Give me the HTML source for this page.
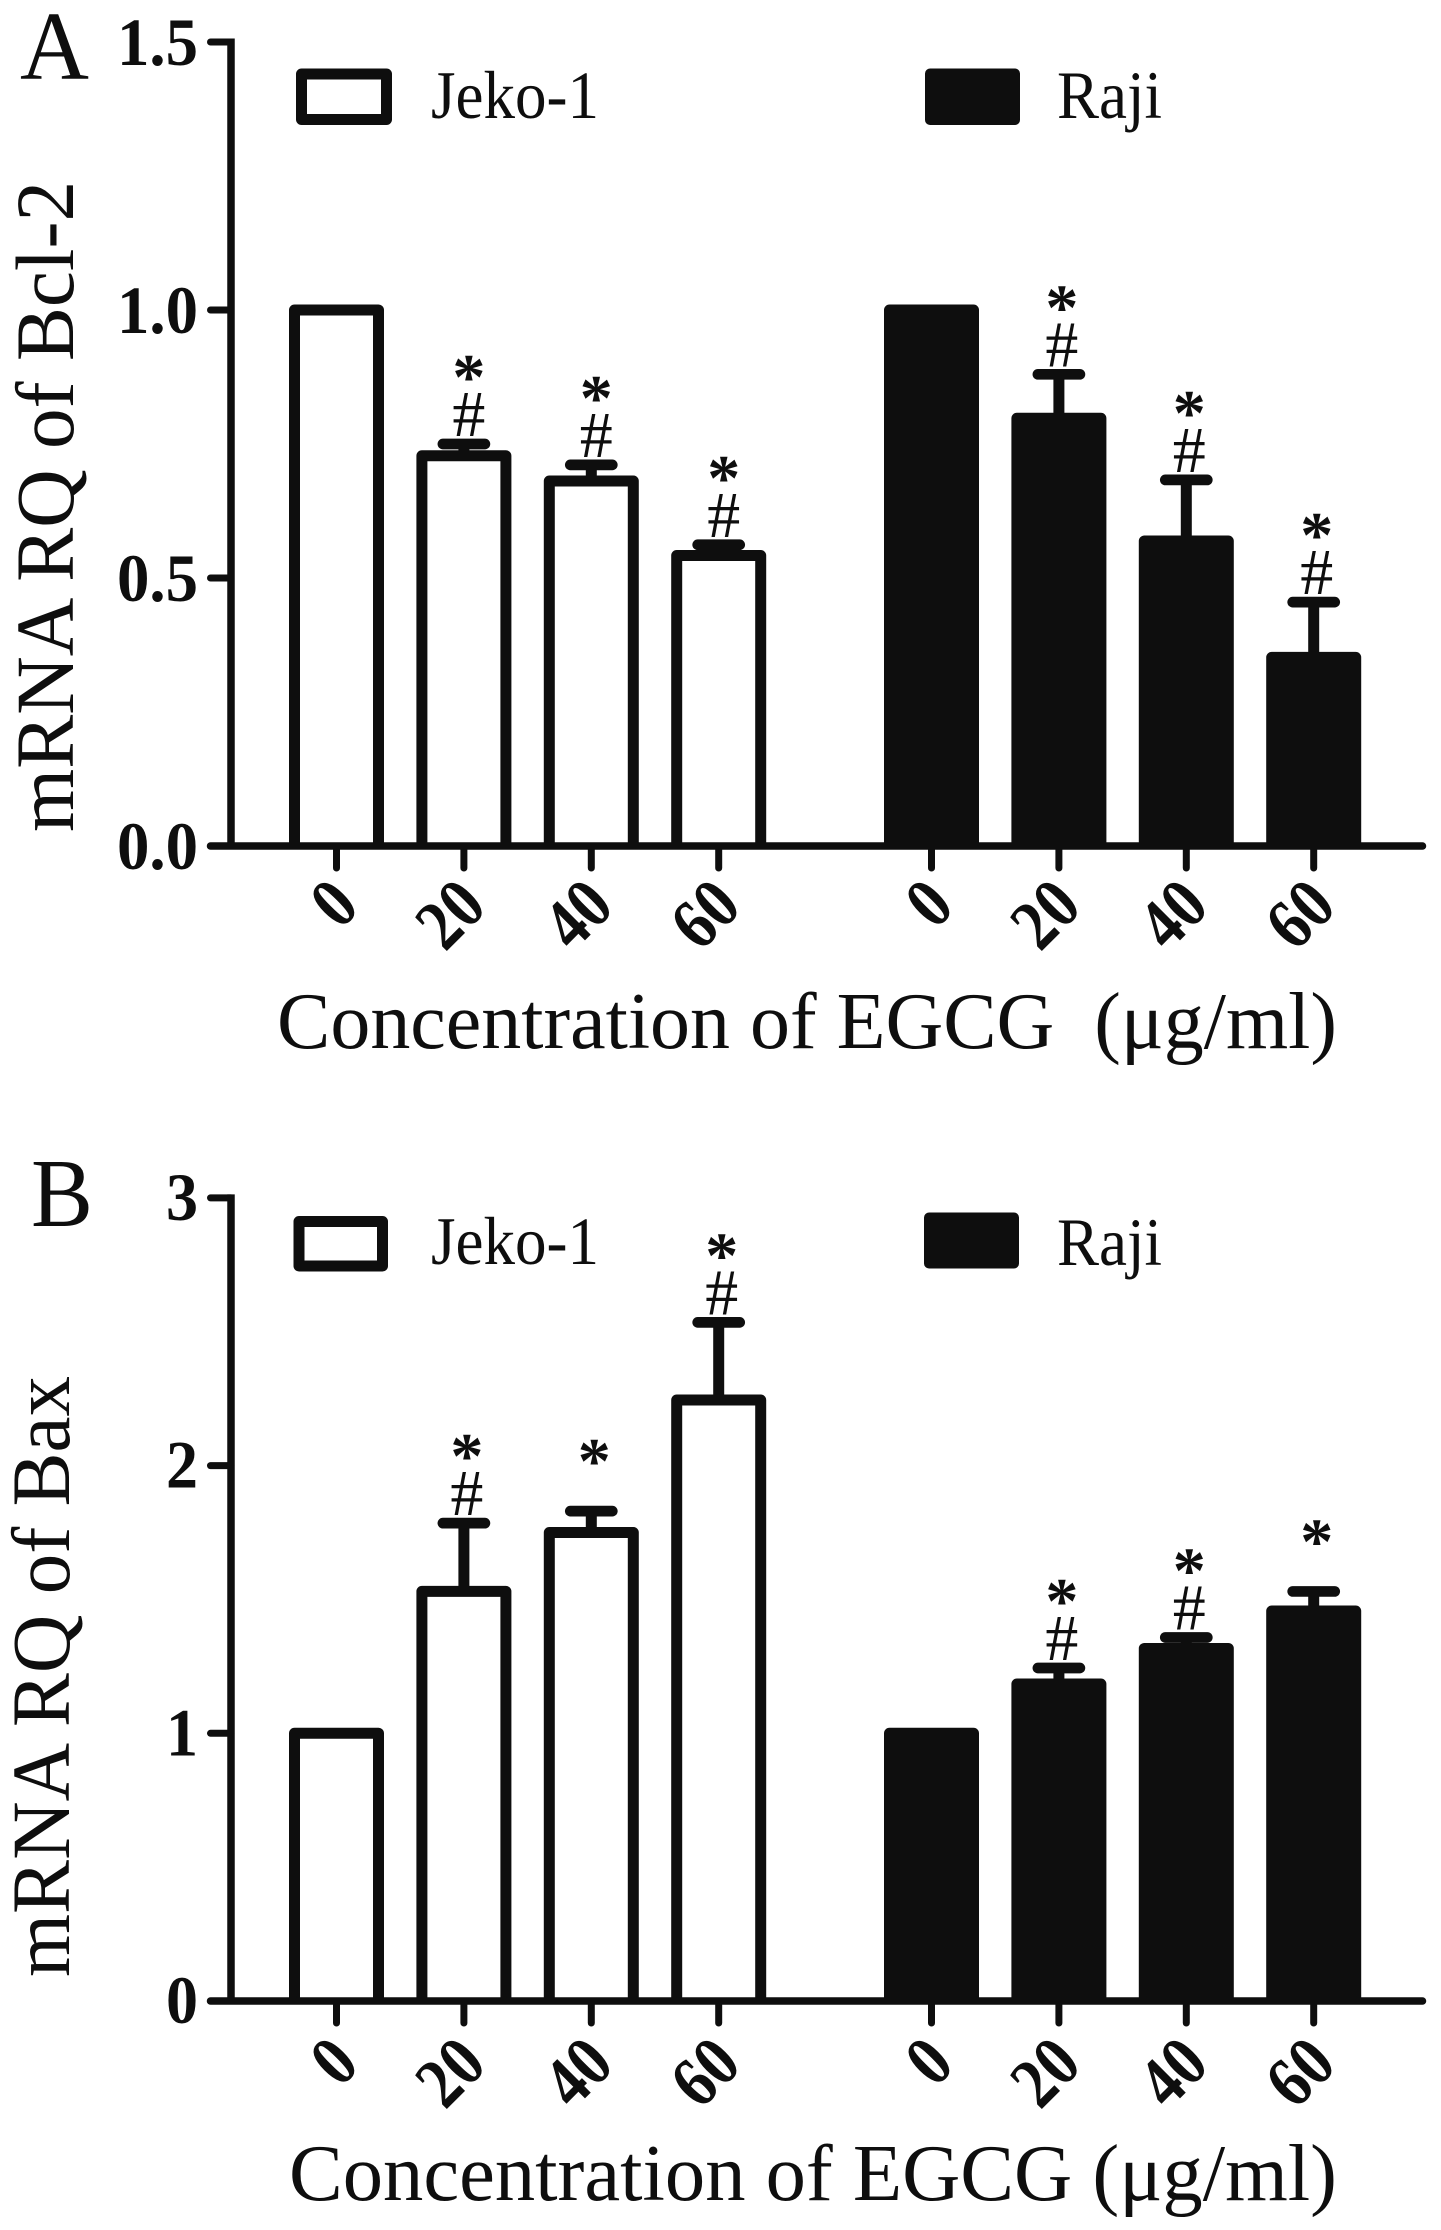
<!DOCTYPE html>
<html lang="en">
<head>
<meta charset="utf-8">
<title>EGCG mRNA RQ of Bcl-2 and Bax</title>
<style>
html,body{margin:0;padding:0;background:#fff;}
svg{display:block;}
text{font-family:"Liberation Serif","DejaVu Serif",serif;fill:#0e0e0e;}
</style>
</head>
<body>
<svg id="figure" xmlns="http://www.w3.org/2000/svg" width="1441" height="2230" viewBox="0 0 1441 2230">
  <rect x="0" y="0" width="1441" height="2230" fill="#ffffff"/>

  <g id="panel-a">
    <text x="20" y="79" font-size="98" textLength="69" lengthAdjust="spacingAndGlyphs">A</text>
    <text transform="translate(73 832) rotate(-90)" font-size="83" textLength="651" lengthAdjust="spacingAndGlyphs">mRNA RQ of Bcl-2</text>
    <text x="277" y="1048" font-size="80" textLength="1060" lengthAdjust="spacingAndGlyphs" xml:space="preserve">Concentration of EGCG  (μg/ml)</text>
    <rect x="301.5" y="74" width="85" height="45.5" fill="#ffffff" stroke="#0e0e0e" stroke-width="11" stroke-linejoin="round"/>
    <text x="431" y="118" font-size="68" textLength="168" lengthAdjust="spacingAndGlyphs">Jeko-1</text>
    <rect x="925" y="68.5" width="95" height="56.5" rx="5" fill="#0e0e0e"/>
    <text x="1057" y="118" font-size="68" textLength="105" lengthAdjust="spacingAndGlyphs">Raji</text>
  </g>

  <g id="panel-b">
    <text x="31" y="1226" font-size="98" textLength="62" lengthAdjust="spacingAndGlyphs">B</text>
    <text transform="translate(69 1977) rotate(-90)" font-size="83" textLength="601" lengthAdjust="spacingAndGlyphs">mRNA RQ of Bax</text>
    <text x="289" y="2200" font-size="80" textLength="1048" lengthAdjust="spacingAndGlyphs">Concentration of EGCG (μg/ml)</text>
    <rect x="299" y="1221.5" width="83.5" height="44.5" fill="#ffffff" stroke="#0e0e0e" stroke-width="11" stroke-linejoin="round"/>
    <text x="431" y="1264" font-size="68" textLength="168" lengthAdjust="spacingAndGlyphs">Jeko-1</text>
    <rect x="924" y="1212.5" width="95" height="56" rx="5" fill="#0e0e0e"/>
    <text x="1057" y="1265" font-size="68" textLength="105" lengthAdjust="spacingAndGlyphs">Raji</text>
  </g>
</svg>

<script>
// Shared categories
const concentrations = ['0', '20', '40', '60'];

// Panel A: Bcl-2
const bcl2Ticks = [0, 0.5, 1.0, 1.5];
const bcl2TickLabels = ['0.0', '0.5', '1.0', '1.5'];
const bcl2Jeko = [1, 0.728, 0.681, 0.542];
const bcl2JekoErr = [0, 0.022, 0.03, 0.02];
const bcl2Raji = [1, 0.798, 0.569, 0.352];
const bcl2RajiErr = [0, 0.082, 0.114, 0.103];
const bcl2JekoMarks = ['', '*#', '*#', '*#'];
const bcl2RajiMarks = ['', '*#', '*#', '*#'];

// Panel B: Bax
const baxTicks = [0, 1, 2, 3];
const baxTickLabels = ['0', '1', '2', '3'];
const baxJeko = [1, 1.53, 1.75, 2.245];
const baxJekoErr = [0, 0.255, 0.08, 0.29];
const baxRaji = [1, 1.184, 1.317, 1.457];
const baxRajiErr = [0, 0.06, 0.041, 0.073];
const baxJekoMarks = ['', '*#', '*', '*#'];
const baxRajiMarks = ['', '*#', '*#', '*'];

const INK = '#0e0e0e';
const NS = 'http://www.w3.org/2000/svg';

function mk(tag, parent, props) {
  const el = document.createElementNS(NS, tag);
  Object.keys(props).forEach(function (k) { el.setAttribute(k, props[k]); });
  parent.appendChild(el);
  return el;
}

// Category axis: group start positions and spacing
function xJeko(i) { return 336.5 + i * 127.4; }
function xRaji(i) { return 931.5 + i * 127.4; }

function drawAxes(g, cfg) {
  const yScale = cfg.yScale;
  const yAxis = mk('line', g, { x1: 231, x2: 231, y1: yScale(cfg.ticks[cfg.ticks.length - 1]) - 3.5, y2: cfg.y0, stroke: INK, 'stroke-width': 7.5 });
  
  

  cfg.ticks.forEach(function (t, i) {
    const tick = mk('line', g, { x1: 210.5, x2: 231, y1: yScale(t), y2: yScale(t), stroke: INK, 'stroke-width': 7, 'stroke-linecap': 'round' });
    
    
    const label = mk('text', g, { x: cfg.labelRight, y: yScale(t) + cfg.labelDy, 'text-anchor': 'end', 'font-size': 68, 'font-weight': 'bold', textLength: cfg.labelWidth, lengthAdjust: 'spacingAndGlyphs' });
    
    
    label.textContent = cfg.tickLabels[i];
  });
}

function drawXAxisLine(g, cfg) {
  const xAxis = mk('line', g, { x1: 210.5, x2: 1422.5, y1: cfg.y0, y2: cfg.y0, stroke: INK, 'stroke-width': 7.5, 'stroke-linecap': 'round' });
  
  
}

function drawXTick(g, cfg, x, text) {
  const tick = mk('line', g, { x1: x, x2: x, y1: cfg.y0, y2: cfg.y0 + 22, stroke: INK, 'stroke-width': 7, 'stroke-linecap': 'round' });
  
  
  const ax = x + 25;
  const ay = cfg.y0 + cfg.xLabelDy;
  const label = mk('text', g, { x: ax, y: ay, 'text-anchor': 'end', 'font-size': 72, 'font-weight': 'bold', textLength: text.length * 31, lengthAdjust: 'spacingAndGlyphs', transform: 'rotate(-45 ' + ax + ' ' + ay + ')' });
  
  
  label.textContent = text;
}

function drawBar(g, cfg, x, value, err, marks, filled, markDx) {
  const yScale = cfg.yScale;
  const halfW = 42;
  const yTop = yScale(value);
  const yCap = yScale(value + err);

  if (err > 0) {
    const stem = mk('line', g, { x1: x, x2: x, y1: yCap, y2: yTop, stroke: INK, 'stroke-width': 11 });
    
    
    const cap = mk('line', g, { x1: x - 21, x2: x + 21, y1: yCap, y2: yCap, stroke: INK, 'stroke-width': 10.7, 'stroke-linecap': 'round' });
    
    
  }

  const d = 'M' + (x - halfW) + ' ' + cfg.y0 + ' V' + yTop + ' H' + (x + halfW) + ' V' + cfg.y0;
  const bar = mk('path', g, { d: d, fill: filled ? INK : '#ffffff', stroke: INK, 'stroke-width': 11, 'stroke-linejoin': 'round' });
  
  

  if (marks.indexOf('#') >= 0) {
    const hash = mk('text', g, { x: x + markDx, y: yCap - 8, 'text-anchor': 'middle', 'font-size': 66 });
    
    
    hash.textContent = '#';
  }
  if (marks.indexOf('*') >= 0) {
    const starY = marks.indexOf('#') >= 0 ? yCap - 45 : yCap - 28;
    const star = mk('text', g, { x: x + markDx, y: starY, 'text-anchor': 'middle', 'font-size': 66, 'font-weight': 'bold' });
    
    
    star.textContent = '*';
  }
}

function drawPanel(g, cfg) {
  drawAxes(g, cfg);
  concentrations.forEach(function (c, i) {
    drawXTick(g, cfg, xJeko(i), c);
    drawXTick(g, cfg, xRaji(i), c);
  });
  concentrations.forEach(function (c, i) {
    drawBar(g, cfg, xJeko(i), cfg.jeko[i], cfg.jekoErr[i], cfg.jekoMarks[i], false, cfg.jekoMarkDx);
    drawBar(g, cfg, xRaji(i), cfg.raji[i], cfg.rajiErr[i], cfg.rajiMarks[i], true, 3);
  });
  drawXAxisLine(g, cfg);
}

drawPanel(document.getElementById('panel-a'), {
  y0: 846,
  yScale: function (v) { return 846 - v * 536; },
  ticks: bcl2Ticks,
  tickLabels: bcl2TickLabels,
  labelDy: 23,
  labelRight: 198,
  labelWidth: 81,
  xLabelDy: 63,
  jekoMarkDx: 5,
  jeko: bcl2Jeko,
  jekoErr: bcl2JekoErr,
  raji: bcl2Raji,
  rajiErr: bcl2RajiErr,
  jekoMarks: bcl2JekoMarks,
  rajiMarks: bcl2RajiMarks
});

drawPanel(document.getElementById('panel-b'), {
  y0: 2001,
  yScale: function (v) { return 2001 - v * 267.7; },
  ticks: baxTicks,
  tickLabels: baxTickLabels,
  labelDy: 22,
  labelRight: 198,
  labelWidth: 32,
  xLabelDy: 66,
  jekoMarkDx: 3,
  jeko: baxJeko,
  jekoErr: baxJekoErr,
  raji: baxRaji,
  rajiErr: baxRajiErr,
  jekoMarks: baxJekoMarks,
  rajiMarks: baxRajiMarks
});
</script>
</body>
</html>
